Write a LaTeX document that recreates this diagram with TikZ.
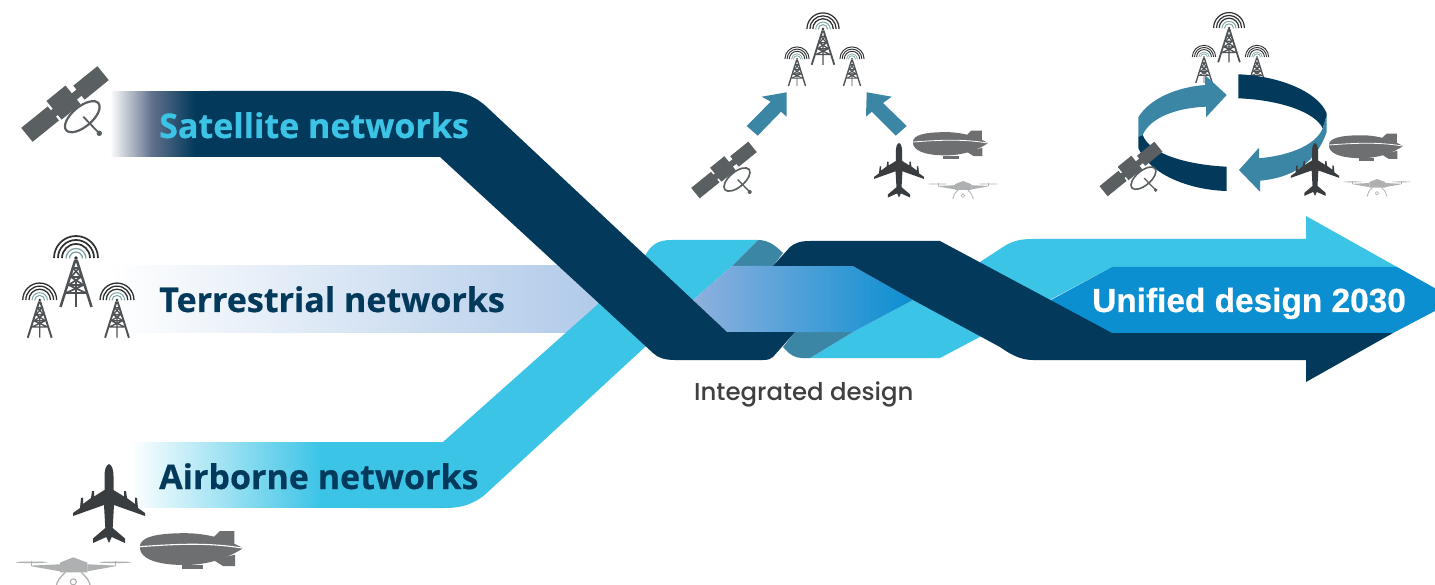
\documentclass[tikz,border=0pt]{standalone}
\usepackage{fontspec}
\setmainfont{Open Sans}
\newfontfamily\labfont[UprightFont=* Bold,FakeBold=0.5]{Open Sans}
\newfontfamily\intfont[UprightFont=* Medium]{Poppins}
\newfontfamily\unifont[UprightFont=* Bold,FakeBold=0.5]{Liberation Sans}
\definecolor{ndark}{HTML}{033A5C}
\definecolor{nlight}{HTML}{3CC4E6}
\definecolor{nblue}{HTML}{0B8FD1}
\definecolor{nteal}{HTML}{3C86A5}
\definecolor{nsat}{HTML}{5A5F61}
\definecolor{nplane}{HTML}{3A3D40}
\definecolor{nblimp}{HTML}{6D6F71}
\definecolor{ndrone}{HTML}{AEB0B2}
\definecolor{ntow}{HTML}{4F5254}
\definecolor{ntowarc}{HTML}{2E3032}
\definecolor{ntowin}{HTML}{7FA3A3}
\definecolor{nfademid}{HTML}{5F6F8A}
\definecolor{nterend}{HTML}{ADC8E8}
\definecolor{ntermid}{HTML}{E0EAF6}
\definecolor{ngradl}{HTML}{8FB0DE}
\pgfdeclarehorizontalshading{fadedark}{100bp}{color(0bp)=(white);color(25bp)=(white);color(45bp)=(nfademid);color(65bp)=(ndark);color(100bp)=(ndark)}
\pgfdeclarehorizontalshading{fadelight}{100bp}{color(0bp)=(white);color(25bp)=(white);color(65bp)=(nlight);color(100bp)=(nlight)}
\tikzset{
  lab/.style={anchor=base west,inner sep=0pt,font=\labfont\fontsize{34}{38}\selectfont},
  pics/saticon/.style={code={
    \begin{scope}[scale=#1]
      \begin{scope}[rotate=39]
        \fill[nsat] (-49,-9) rectangle (-15,9);
        \fill[nsat] (18,-9) rectangle (49,9);
        \fill[nsat] (-17,-4) rectangle (20,4);
        \fill[nsat] (-12.5,-14) rectangle (12,10);
      \end{scope}
      \draw[nsat,fill=white,line width=#1*2.2pt,rotate around={40:(17.3,12.7)}] (17.3,12.7) ellipse [x radius=21,y radius=10];
      \draw[nsat,line width=#1*1.8pt] (18.3,12.7)--(34.3,29.3);
      \fill[nsat] (34.3,29.3) circle [radius=2.7];
    \end{scope}}},
  pics/towericon/.style={code={
    \begin{scope}[scale=#1]
      \foreach \r in {22,18,14}
        \draw[ntowarc,line width=#1*1.7pt] (-\r,0) arc[start angle=180,end angle=360,radius=\r];
      \foreach \r in {10,6.5}
        \draw[ntowin,line width=#1*1.3pt] (-\r,0.5) arc[start angle=180,end angle=360,radius=\r];
      \fill[ntowarc] (0,0) circle [radius=1.8];
      \draw[ntow,line width=#1*2.5pt] (-15.5,49)--(-1,3)--(1,3)--(15.5,49);
      \draw[ntow,line width=#1*1.7pt] (0,24)--(0,49)
        (-5,19)--(5,19) (-7.5,27)--(7.5,27) (-10,35)--(10,35)
        (-5,19)--(7.5,27) (5,19)--(-7.5,27) (-7.5,27)--(10,35) (7.5,27)--(-10,35)
        (-3,10)--(3,10) (-3,10)--(5,19) (3,10)--(-5,19);
    \end{scope}}},
  pics/planeicon/.style={code={
    \begin{scope}[scale=#1]
      \fill[nplane] (0,0) .. controls (3,1) and (4.5,6) .. (4.5,12) -- (4.5,26) -- (15,32.5) -- (15,27) -- (17,27) -- (18,34) -- (26,40) -- (26,33.5) -- (28,34) -- (29,44) -- (36,49) -- (36,52) -- (5,41) -- (3.7,64) -- (16,74.5) -- (16,79) -- (2.7,73) -- (0,79)
        -- (-2.7,73) -- (-16,79) -- (-16,74.5) -- (-3.7,64) -- (-5,41) -- (-36,52) -- (-36,49) -- (-29,44) -- (-28,34) -- (-26,33.5) -- (-26,40) -- (-18,34) -- (-17,27) -- (-15,27) -- (-15,32.5) -- (-4.5,26) -- (-4.5,12) .. controls (-4.5,6) and (-3,1) .. (0,0) -- cycle;
    \end{scope}}},
  pics/blimpicon/.style={code={
    \begin{scope}[scale=#1]
      \fill[nblimp] (73,-9)--(80,-15.7)--(94.3,-15.7)--(94.3,-2.7)--cycle;
      \fill[nblimp] (73,13)--(83,19.3)--(95,19.3)--(95,8)--cycle;
      \fill[nblimp] (41.7,18.5) rectangle (63,22.7);
      \fill[nblimp] (0,-1) .. controls (1,-9) and (14,-13.5) .. (45,-13.5) .. controls (70,-13.5) and (90,-6) .. (103,1.5) .. controls (90,10) and (70,18.3) .. (45,18.3) .. controls (14,18.3) and (1,11) .. (0,2) -- cycle;
      \draw[white,line width=#1*1.1pt] (0,0) .. controls (40,-3) and (70,-4) .. (103,1.5);
    \end{scope}}},
  pics/droneicon/.style={code={
    \begin{scope}[scale=#1]
      \fill[ndrone] (-13.3,5.3)--(0,0)--(14,5.3)--(14,15)--(-13.3,15)--cycle;
      \fill[ndrone] (14,7)--(42,8.3)--(42,9)--(14,14)--cycle;
      \fill[ndrone] (-13.3,7)--(-42,8.3)--(-42,9)--(-13.3,14)--cycle;
      \fill[ndrone] (42,5) ellipse [x radius=16,y radius=0.8];
      \fill[ndrone] (-42,5) ellipse [x radius=16,y radius=0.8];
      \draw[ndrone,line width=#1*1pt] (42,3.5)--(42,9) (-42,3.5)--(-42,9);
      \draw[ndrone,line width=#1*1.3pt] (-17,30) .. controls (-17,24) and (-13,20) .. (-8,15) (17,30) .. controls (17,24) and (13,20) .. (8,15);
      \draw[ndrone,line width=#1*1.1pt] (0,24.5) circle [radius=3];
    \end{scope}}}
}
\begin{document}
\begin{tikzpicture}[x=1pt,y=-1pt]
\clip (0,0) rectangle (1435,585);
\fill[white] (0,0) rectangle (1435,585);
% terrestrial band
\shade[left color=white,middle color=ntermid,right color=nterend] (110,266) rectangle (620,332);
% light ribbon
\shade[shading=fadelight] (130,442.3) rectangle (368,507.7);
\fill[nlight] (360,442) -- (443,442) -- (597,305) -- (645,256) .. controls (651,245) and (657,240) .. (672,240) -- (758,240) -- (732,266) -- (693,300) -- (645,347) -- (490,490) .. controls (478,502) and (465,508) .. (445,508) -- (360,508) -- cycle;
\fill[nlight] (810,358) -- (940,358) -- (1112,267) -- (1397,267) -- (1306,216) -- (1306,239) -- (1033,239) .. controls (1020,239) and (1012,241) .. (1003,247) -- (980,262) -- (913,300) -- (853,332) -- cycle;
% teal overlaps
\fill[nteal] (732,266) -- (758,240) .. controls (768,240) and (775,245) .. (783,253) -- (773,266) -- cycle;
\fill[nteal] (795,332) -- (783,347) .. controls (790,355) and (795,358) .. (802,358) -- (810,358) -- (853,332) -- cycle;
% central gradient
\shade[left color=ngradl,right color=nblue] (693,300) -- (732,266) -- (853,266) -- (913,300) -- (853,332) -- (727,332) -- cycle;
% blue arrow
\fill[nblue] (1112,267) -- (1397,267) -- (1456,300) -- (1393,333) -- (1112,340) -- (1060,320) -- (1051,300) -- cycle;
% dark ribbon
\shade[shading=fadedark] (110,91.3) rectangle (216,156.7);
\fill[ndark] (210,91) -- (445,91) .. controls (465,91) and (478,98) .. (490,110) -- (727,332) -- (795,332) -- (773,357) .. controls (771,359) and (768,360) .. (763,360) -- (675,360) .. controls (665,360) and (658,358) .. (653,353) -- (440,157) -- (210,157) -- cycle;
\fill[ndark] (773,266) -- (790,247) .. controls (795,243) and (800,241) .. (810,241) -- (940,241) -- (1112,333) -- (1393,333) -- (1306,382) -- (1306,360) -- (1033,360) .. controls (1020,360) and (1010,354) .. (1000,347) -- (913,300) -- (853,266) -- cycle;
% text
\node[lab,text=nlight] (sat) at (159,138) {Satellite networks};
\node[lab,text=ndark] (ter) at (159,312) {Terrestrial networks};
\node[lab,text=ndark] (air) at (159,489) {Airborne networks};
\node[anchor=base west,inner sep=0pt,text=white,font=\unifont\fontsize{33.4}{36}\selectfont] (uni) at (1092,312) {Unified design 2030};
\node[anchor=base west,inner sep=0pt,text=black!75,font=\intfont\fontsize{24.4}{28}\selectfont] (int) at (694,400) {Integrated design};
% left icons
\pic at (65,104) {saticon=1};
\pic at (76,258) {towericon=1};
\pic at (39.7,300) {towericon=.77};
\pic at (117,300) {towericon=.77};
\pic at (73.3,557.3) {droneicon=1};
\pic at (109,464) {planeicon=1};
\pic at (140,546.7) {blimpicon=1};
% middle group
\pic at (823,29) {towericon=.73};
\pic at (797,59) {towericon=.55};
\pic at (852,59) {towericon=.55};
\fill[nteal] (786.7,92.3) -- (761.7,96.7) -- (770.7,101.7) -- (746.7,126) -- (757.7,135.7) -- (781,111.7) -- (786.7,116.7) -- cycle;
\fill[nteal] (866.7,92.3) -- (891.7,96.7) -- (883,103) -- (906.7,126) -- (895.7,135.7) -- (871.7,111.7) -- (866,116.7) -- cycle;
\pic at (724,170) {saticon=.75};
\pic at (963,181) {droneicon=.6};
\pic at (913,142) {blimpicon=.73};
\pic at (899,143) {planeicon=.69};
% right group
\pic at (1229,28) {towericon=.7};
\pic at (1204,57) {towericon=.53};
\pic at (1257,57) {towericon=.53};
\fill[ndark] (1138.3,136.7) -- (1138.3,148) .. controls (1150,175) and (1190,190) .. (1226.7,191) -- (1226.7,166.7) .. controls (1190,165) and (1150,155) .. (1142.7,135) -- cycle;
\fill[nteal] (1138.3,117.3) .. controls (1150,98) and (1178,87) .. (1205,85) -- (1205,75) -- (1226.7,95) -- (1206,117.3) -- (1206,106.7) .. controls (1175,108) and (1150,118) .. (1142.7,135) -- (1138.3,137) -- cycle;
\fill[ndark] (1238.3,74.3) .. controls (1280,76) and (1318,92) .. (1326.7,113.3) -- (1326.7,116) -- (1322.7,128.3) .. controls (1315,112) and (1280,100) .. (1238.3,98.3) -- cycle;
\fill[nteal] (1326.7,115) -- (1326.7,132) .. controls (1315,165) and (1290,178) .. (1260,180.7) -- (1260,191.7) -- (1239,170) -- (1259,147.7) -- (1259,158.3) .. controls (1285,156) and (1315,147) .. (1322.7,128.3) -- cycle;
\pic at (1131,169) {saticon=.72};
\pic at (1377,179) {droneicon=.58};
\pic at (1329,145) {blimpicon=.72};
\pic at (1315,143) {planeicon=.67};
\end{tikzpicture}
\end{document}
